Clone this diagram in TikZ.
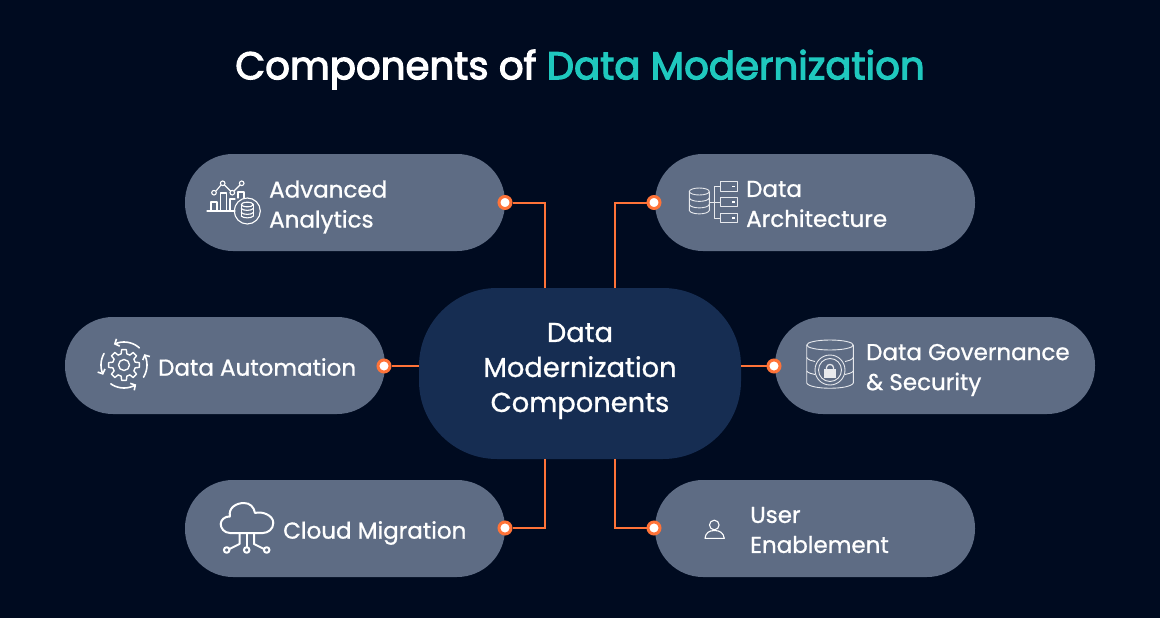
\documentclass[tikz,border=0pt]{standalone}
\usepackage{fontspec}
\setmainfont{Poppins}
\newfontfamily\labelfont{Poppins}[FakeBold=0.9]
\newfontfamily\titlefont{Poppins}[FakeBold=3]
\usepackage{xcolor}
\usetikzlibrary{arrows.meta}
\usetikzlibrary{backgrounds}
\definecolor{pagebg}{HTML}{000B20}
\definecolor{pillcol}{HTML}{5E6C84}
\definecolor{hubcol}{HTML}{162D52}
\definecolor{linecol}{HTML}{FF7338}
\definecolor{tealcol}{HTML}{1FC8BE}

\begin{document}
\begin{tikzpicture}[
    x=1pt, y=-1pt,
    pill style/.style={draw=none, fill=pillcol, minimum width=320pt, minimum height=97pt, rounded corners=48pt, inner sep=0pt},
    hub style/.style={draw=none, fill=hubcol, minimum width=322pt, minimum height=171pt, rounded corners=78pt, inner sep=0pt},
    label style/.style={text=white, anchor=west, align=left, inner sep=0pt, font=\labelfont\fontsize{23}{30}\selectfont},
    dot style/.style={circle, draw=linecol, line width=3pt, fill=white, minimum size=12pt, inner sep=0pt},
    link style/.style={draw=linecol, line width=2pt},
    icon style/.style={draw=white, line width=1.1pt, line cap=round, line join=round},
    icon thin/.style={draw=white!85!pillcol, line width=0.9pt, line join=round},
    turn style/.style={icon style, line width=1.6pt, -{Straight Barb[length=3.5pt,width=8pt]}}
]
\fill[pagebg] (0,0) rectangle (1160,618);
\useasboundingbox (0,0) rectangle (1160,618);

\node[text=white, font=\titlefont\fontsize{38.7}{46}\selectfont] (title) at (580,69.5) {Components of \textcolor{tealcol}{Data Modernization}};

\node[pill style] (adv) at (345,202.5) {};
\node[pill style] (arch) at (815,202.5) {};
\node[pill style] (auto) at (225,365.5) {};
\node[pill style] (gov) at (935,365.5) {};
\node[pill style] (cloud) at (345,528.5) {};
\node[pill style] (user) at (815,528.5) {};
\node[hub style] (hub) at (580,373.5) {};

\node[text=white, align=center, font=\labelfont\fontsize{27.3}{35}\selectfont] (hubtext) at (580,371) {Data\\Modernization\\Components};

\node[label style] (advtext) at (269,207) {Advanced\\Analytics};
\node[label style] (archtext) at (746,204) {Data\\Architecture};
\node[label style] (autotext) at (158,367) {Data Automation};
\node[label style] (govtext) at (866,370) {Data Governance\\\& Security};
\node[label style] (cloudtext) at (283,533) {Cloud Migration};
\node[label style] (usertext) at (750,530) {User\\Enablement};

\coordinate (hubnw) at (545,288);
\coordinate (hubne) at (615,288);
\coordinate (hubsw) at (545,459);
\coordinate (hubse) at (615,459);
\coordinate (hubw) at (419,366);
\coordinate (hube) at (741,366);

\node[dot style] (advdot) at (505,202.5) {};
\node[dot style] (archdot) at (654,202.5) {};
\node[dot style] (autodot) at (384,366) {};
\node[dot style] (govdot) at (774,366) {};
\node[dot style] (clouddot) at (505,528) {};
\node[dot style] (userdot) at (654,528) {};

\draw[link style] (advdot) -| (hubnw);
\draw[link style] (archdot) -| (hubne);
\draw[link style] (autodot) -- (hubw);
\draw[link style] (govdot) -- (hube);
\draw[link style] (clouddot) -| (hubsw);
\draw[link style] (userdot) -| (hubse);

% analytics icon
\draw[icon style] (207,211) -- (235,211);
\draw[icon style] (211,211) |- (217,202) -- (217,211);
\draw[icon style] (220.7,211) |- (226.7,193) -- (226.7,211);
\draw[icon style] (230,211) -- (230,199) -- (235,199);
\draw[icon style] (238,198) -- (238,192) -- (244,192) -- (244,198);
\draw[icon style] (216,191) -- (221,185);
\draw[icon style] (224.5,185) -- (230.5,191);
\draw[icon style] (234,191) -- (240,185);
\foreach \cx/\cy in {214/192.7,222.7/183.3,232.3/192.7,241.7/183.3}
    \draw[icon style] (\cx,\cy) circle[radius=2.3];
\draw[icon style] (247.3,211) circle[radius=13];
\draw[icon style] (247.3,204.5) ellipse[x radius=6, y radius=2.3];
\draw[icon style] (241.3,204.5) -- (241.3,216) (253.3,204.5) -- (253.3,216);
\draw[icon style] (241.3,208.5) .. controls (243,211) and (251.6,211) .. (253.3,208.5);
\draw[icon style] (241.3,212.5) .. controls (243,215) and (251.6,215) .. (253.3,212.5);
\draw[icon style] (241.3,216) .. controls (243,218.5) and (251.6,218.5) .. (253.3,216);

% architecture icon
\draw[icon thin] (699.3,191.5) ellipse[x radius=10, y radius=3.5];
\draw[icon thin] (689.3,191.5) -- (689.3,210.5) .. controls (691,215) and (707.6,215) .. (709.3,210.5) -- (709.3,191.5);
\draw[icon thin] (689.3,198) .. controls (691,202.5) and (707.6,202.5) .. (709.3,198);
\draw[icon thin] (689.3,204.5) .. controls (691,209) and (707.6,209) .. (709.3,204.5);
\foreach \by in {181.7,197.3,213.3}{
    \draw[icon thin] (720,\by) rectangle (737.3,\by+9.3);
    \fill[white] (732,\by+4) rectangle (735,\by+5.3);
}
\draw[icon thin] (720,186) -- (714,186) -- (714,218) -- (720,218);
\draw[icon thin] (709.3,202) -- (720,202);

% automation icon
\draw[icon style, line width=1.4pt] ({124+15.5*cos(-9)},{365+15.5*sin(-9)})
    \foreach \a in {0,45,...,315}{
        -- ({124+15.5*cos(\a-9)},{365+15.5*sin(\a-9)}) -- ({124+15.5*cos(\a+9)},{365+15.5*sin(\a+9)})
        -- ({124+11.5*cos(\a+14)},{365+11.5*sin(\a+14)}) -- ({124+11.5*cos(\a+31)},{365+11.5*sin(\a+31)})
    } -- cycle;
\draw[icon style, line width=1.4pt] (124,365) circle[radius=5.5];
\draw[turn style] plot[domain=-48:-116, samples=12, smooth] ({124+23*cos(\x)},{365+23*sin(\x)});
\draw[turn style] plot[domain=150:205, samples=12, smooth] ({124+23*cos(\x)},{365-23*sin(\x)});
\draw[turn style] plot[domain=125:58, samples=12, smooth] ({124+23*cos(\x)},{365+23*sin(\x)});
\draw[turn style] plot[domain=32:-28, samples=12, smooth] ({124+23*cos(\x)},{365+23*sin(\x)});

% governance icon
\draw[icon thin] (830,345) ellipse[x radius=23.3, y radius=5];
\draw[icon thin] (806.7,345) -- (806.7,383) .. controls (810,390) and (850,390) .. (853.3,383) -- (853.3,345);
\draw[icon thin] (806.7,357.5) .. controls (808,360) and (812,361) .. (815,361.5);
\draw[icon thin] (853.3,357.5) .. controls (852,360) and (848,361) .. (845,361.5);
\draw[icon thin] (806.7,371) .. controls (808,373) and (812,374) .. (815,374.5);
\draw[icon thin] (853.3,371) .. controls (852,373) and (848,374) .. (845,374.5);
\draw[icon thin] (830,370) circle[radius=15];
\draw[icon thin] (830,370) circle[radius=11.5];
\fill[white!85!pillcol] (824,369) rectangle (836,377.5);
\draw[icon thin, line width=1.3pt] (826.5,369) -- (826.5,367.5) .. controls (826.5,363.5) and (833.5,363.5) .. (833.5,367.5) -- (833.5,369);

% cloud icon
\draw[icon style, line width=2pt] (230,533) .. controls (224,533) and (220.7,528) .. (220.7,524) .. controls (220.7,520) and (225,516) .. (230,516.5)
    .. controls (228,508) and (236,503) .. (244,503) .. controls (250,503) and (254,507) .. (255,513)
    .. controls (262,511) and (273.3,515) .. (273.3,523) .. controls (273.3,529) and (268,533) .. (263,533) -- cycle;
\draw[icon style, line width=2pt] (246.7,533) -- (246.7,547);
\draw[icon style, line width=2pt] (239.5,533) -- (239.5,544) -- (229.5,549);
\draw[icon style, line width=2pt] (254,533) -- (254,544) -- (264,549);
\foreach \cx in {226.7,246.7,266.7}
    \draw[icon style, line width=2pt] (\cx,550) circle[radius=2.8];

% user icon
\draw[icon style] (714.3,525) circle[radius=4.8];
\draw[icon style] (705,538.3) .. controls (705.5,533) and (709,530.5) .. (714.5,530.5) .. controls (720,530.5) and (723.5,533) .. (724.3,538.3) -- cycle;
\end{tikzpicture}
\end{document}
